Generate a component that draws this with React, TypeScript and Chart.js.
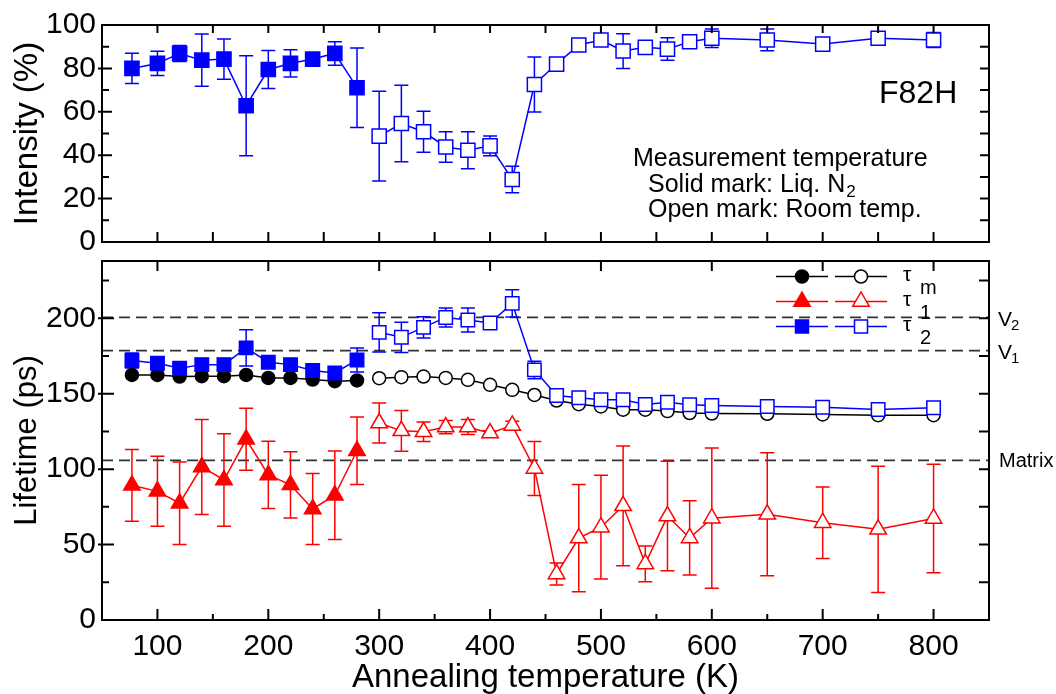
import React, { useEffect, useRef } from 'react';
import { Chart, registerables } from 'chart.js';

Chart.register(...registerables);

const FONT = '"Liberation Sans", Arial, Helvetica, sans-serif';

// Annealing temperatures (K)
const tempSolid = [77, 100, 120, 140, 160, 180, 200, 220, 240, 260, 280];
const tempOpen = [300, 320, 340, 360, 380, 400, 420, 440, 460, 480, 500, 520, 540, 560, 580, 600, 650, 700, 750, 800];

// Intensity (%) of tau2 component
const intensitySolid = [80.0, 82.3, 86.9, 83.8, 84.3, 62.8, 79.5, 82.3, 84.3, 86.9, 71.1];
const intensitySolidErr = [7, 5.6, 3.7, 12, 9.3, 23, 8.8, 6.3, 2, 5.4, 18.3];
const intensityOpen = [48.8, 54.6, 50.8, 43.8, 42.3, 44.3, 28.8, 72.6, 82.0, 90.8, 93.1, 88.0, 89.7, 88.9, 92.3, 93.9, 93.1, 91.2, 93.9, 93.1];
const intensityOpenErr = [20.7, 17.6, 9.4, 7, 8.5, 4.6, 6.1, 12.7, 1.5, 1, 2, 8, 1, 5.2, 1.5, 4.3, 5, 1.5, 1.5, 3.5];

// Lifetimes (ps)
const tauMSolid = [162.5, 162.5, 161.4, 161.6, 161.6, 162.5, 160.5, 160.5, 159.4, 158.3, 158.8];
const tauMOpen = [160.3, 161.0, 161.4, 160.5, 159.2, 155.9, 152.6, 149.2, 145.5, 143.1, 141.6, 139.4, 139.4, 138.5, 137.2, 136.9, 136.7, 136.3, 135.8, 135.8];

const tau1Solid = [89.3, 85.3, 77.4, 101.5, 92.8, 119.8, 96.2, 89.6, 73.6, 82.7, 112.2];
const tau1SolidErr = [23.8, 23.2, 27.3, 31.5, 30.6, 20.6, 22.3, 22, 23.5, 29.3, 22.4];
const tau1Open = [130.6, 125.4, 124.8, 127.9, 127.9, 123.9, 129.0, 100.5, 30.5, 54.3, 61.5, 75.7, 37.2, 68.9, 54.4, 67.5, 70.1, 64.5, 60.1, 67.3];
const tau1OpenErr = [13.2, 13.5, 6.4, 4.4, 5, 1.5, 2.8, 17.9, 7.3, 35.5, 34.4, 39.7, 11.8, 36.3, 24.6, 46.5, 40.8, 23.7, 41.8, 36];

const tau2Solid = [172.0, 170.2, 166.9, 169.3, 169.3, 180.4, 170.9, 169.3, 165.4, 163.8, 172.4];
const tau2SolidErr = [5, 3, 2, 4, 4, 12, 3, 2, 2, 2, 8];
const tau2Open = [190.7, 187.4, 194.0, 200.6, 198.9, 196.9, 209.9, 165.8, 148.8, 147.3, 146.0, 146.0, 142.9, 144.4, 142.7, 142.2, 141.6, 141.1, 139.6, 140.7];
const tau2OpenErr = [13, 10, 7, 6.3, 8, 2, 9, 5.8, 2.5, 2.5, 2.5, 3, 2.5, 2.5, 2.5, 2.5, 2.5, 2.5, 2.5, 3];

// Tick labels
const xTickValues = [100, 200, 300, 400, 500, 600, 700, 800];
const intensityTickValues = [0, 20, 40, 60, 80, 100];
const lifetimeTickValues = [0, 50, 100, 150, 200];

// Reference lifetimes (dashed lines)
const refLineValues = [200.6, 178.6, 105.8];
const refLineNames = ['V', 'V', 'Matrix'];
const refLineSubs = ['2', '1', ''];

const BLUE = '#0000ff';
const RED = '#ff0000';
const BLACK = '#000000';

function range(a: number, b: number, step: number) {
  const out: number[] = [];
  for (let v = a; v <= b + 1e-9; v += step) out.push(v);
  return out;
}

function series(xs: number[], ys: number[], errs: number[] | null, color: string, style: string, filled: boolean, radius: number) {
  return {
    data: xs.map((x, i) => ({ x, y: ys[i] })),
    errors: errs,
    borderColor: color,
    backgroundColor: filled ? color : '#ffffff',
    borderWidth: 1.5,
    pointStyle: style,
    pointRadius: radius,
    pointBorderWidth: 1.5,
    pointBackgroundColor: filled ? color : '#ffffff',
    pointBorderColor: color,
    showLine: true,
    tension: 0,
    fill: false,
  };
}

const errorBarPlugin = {
  id: 'errorBars',
  beforeDatasetsDraw(chart: any) {
    const { ctx } = chart;
    const x = chart.scales.x;
    const y = chart.scales.y;
    ctx.save();
    ctx.lineWidth = 1.5;
    ctx.setLineDash([]);
    chart.data.datasets.forEach((ds: any) => {
      if (!ds.errors) return;
      ctx.strokeStyle = ds.borderColor;
      ds.data.forEach((p: any, i: number) => {
        const e = ds.errors[i];
        if (!e) return;
        const px = x.getPixelForValue(p.x);
        const y1 = y.getPixelForValue(p.y + e);
        const y2 = y.getPixelForValue(p.y - e);
        ctx.beginPath();
        ctx.moveTo(px, y1);
        ctx.lineTo(px, y2);
        ctx.moveTo(px - 7, y1);
        ctx.lineTo(px + 7, y1);
        ctx.moveTo(px - 7, y2);
        ctx.lineTo(px + 7, y2);
        ctx.stroke();
      });
    });
    ctx.restore();
  },
};

type TickSpec = { values: number[]; len: number; out?: number };
function makeFramePlugin(id: string, spec: { bottom: TickSpec[]; top: TickSpec[]; left: TickSpec[]; right: TickSpec[] }) {
  return {
    id,
    afterDraw(chart: any) {
      const { ctx, chartArea: a } = chart;
      const x = chart.scales.x;
      const y = chart.scales.y;
      ctx.save();
      ctx.strokeStyle = '#000';
      ctx.lineWidth = 2;
      ctx.setLineDash([]);
      ctx.beginPath();
      ctx.rect(a.left, a.top, a.right - a.left, a.bottom - a.top);
      spec.bottom.forEach((t) => t.values.forEach((v) => {
        const p = x.getPixelForValue(v);
        ctx.moveTo(p, a.bottom + (t.out || 0));
        ctx.lineTo(p, a.bottom - t.len);
      }));
      spec.top.forEach((t) => t.values.forEach((v) => {
        const p = x.getPixelForValue(v);
        ctx.moveTo(p, a.top - (t.out || 0));
        ctx.lineTo(p, a.top + t.len);
      }));
      spec.left.forEach((t) => t.values.forEach((v) => {
        const p = y.getPixelForValue(v);
        ctx.moveTo(a.left - (t.out || 0), p);
        ctx.lineTo(a.left + t.len, p);
      }));
      spec.right.forEach((t) => t.values.forEach((v) => {
        const p = y.getPixelForValue(v);
        ctx.moveTo(a.right + (t.out || 0), p);
        ctx.lineTo(a.right - t.len, p);
      }));
      ctx.stroke();
      ctx.restore();
    },
  };
}

function drawMarker(ctx: CanvasRenderingContext2D, style: string, x: number, y: number, color: string, filled: boolean) {
  ctx.beginPath();
  if (style === 'circle') {
    ctx.arc(x, y, 6.5, 0, Math.PI * 2);
  } else if (style === 'triangle') {
    const r = 9.5;
    ctx.moveTo(x, y - r);
    ctx.lineTo(x + r * 0.866, y + r * 0.5);
    ctx.lineTo(x - r * 0.866, y + r * 0.5);
    ctx.closePath();
  } else {
    ctx.rect(x - 6.5, y - 6.5, 13, 13);
  }
  ctx.fillStyle = filled ? color : '#ffffff';
  ctx.fill();
  ctx.strokeStyle = color;
  ctx.lineWidth = 1.5;
  ctx.stroke();
}

const topTextPlugin = {
  id: 'topText',
  afterDraw(chart: any) {
    const { ctx, chartArea: a } = chart;
    ctx.save();
    ctx.fillStyle = '#000';
    ctx.textBaseline = 'alphabetic';
    ctx.textAlign = 'left';
    ctx.font = `32px ${FONT}`;
    ctx.fillText('F82H', a.right - 110, a.top + 78);
    ctx.font = `25px ${FONT}`;
    ctx.fillText('Measurement temperature', a.right - 356, a.top + 141);
    const s = 'Solid mark: Liq. N';
    ctx.fillText(s, a.right - 341, a.top + 166.7);
    const w = ctx.measureText(s).width;
    ctx.font = `17px ${FONT}`;
    ctx.fillText('2', a.right - 341 + w + 1, a.top + 171.5);
    ctx.font = `25px ${FONT}`;
    ctx.fillText('Open mark: Room temp.', a.right - 341, a.top + 191.7);
    ctx.restore();
  },
};

const bottomDecorPlugin = {
  id: 'bottomDecor',
  beforeDatasetsDraw(chart: any) {
    const { ctx, chartArea: a } = chart;
    const y = chart.scales.y;
    ctx.save();
    ctx.strokeStyle = '#333333';
    ctx.lineWidth = 1.6;
    ctx.setLineDash([11, 6]);
    refLineValues.forEach((v) => {
      const p = y.getPixelForValue(v);
      ctx.beginPath();
      ctx.moveTo(a.left, p);
      ctx.lineTo(a.right, p);
      ctx.stroke();
    });
    ctx.restore();
  },
  afterDraw(chart: any) {
    const { ctx, chartArea: a } = chart;
    const y = chart.scales.y;
    ctx.save();
    ctx.fillStyle = '#000';
    ctx.textAlign = 'left';
    ctx.textBaseline = 'alphabetic';
    refLineValues.forEach((v, i) => {
      const p = y.getPixelForValue(v);
      if (refLineSubs[i]) {
        ctx.font = `21px ${FONT}`;
        ctx.fillText(refLineNames[i], a.right + 9, p + 8.5);
        const w = ctx.measureText(refLineNames[i]).width;
        ctx.font = `15px ${FONT}`;
        ctx.fillText(refLineSubs[i], a.right + 9 + w - 1, p + 12.5);
      } else {
        ctx.font = `20px ${FONT}`;
        ctx.fillText(refLineNames[i], a.right + 10, p + 7);
      }
    });

    // Legend
    const rows = [
      { dy: 15.5, color: BLACK, style: 'circle', sub: 'm' },
      { dy: 40.5, color: RED, style: 'triangle', sub: '1' },
      { dy: 65.5, color: BLUE, style: 'rect', sub: '2' },
    ];
    rows.forEach((r) => {
      const ry = a.top + r.dy;
      ctx.setLineDash([]);
      ctx.strokeStyle = r.color;
      ctx.lineWidth = 1.5;
      ctx.beginPath();
      ctx.moveTo(a.right - 213, ry);
      ctx.lineTo(a.right - 161, ry);
      ctx.moveTo(a.right - 154, ry);
      ctx.lineTo(a.right - 102, ry);
      ctx.stroke();
      drawMarker(ctx, r.style, a.right - 187, ry, r.color, true);
      drawMarker(ctx, r.style, a.right - 128, ry, r.color, false);
      ctx.fillStyle = '#000';
      ctx.font = `21px ${FONT}`;
      ctx.fillText('\u03C4', a.right - 86, ry + 4);
      ctx.font = `20px ${FONT}`;
      ctx.fillText(r.sub, a.right - 69, ry + 17);
    });
    ctx.restore();
  },
};

export default function App() {
  const topRef = useRef<HTMLCanvasElement>(null);
  const botRef = useRef<HTMLCanvasElement>(null);

  useEffect(() => {
    const tickFont = { family: FONT, size: 30, lineHeight: 1 };

    const topChart = new Chart(topRef.current as HTMLCanvasElement, {
      type: 'line',
      data: {
        datasets: [
          series(tempSolid, intensitySolid, intensitySolidErr, BLUE, 'rect', true, 10),
          series(tempOpen, intensityOpen, intensityOpenErr, BLUE, 'rect', false, 10),
        ] as any,
      },
      options: {
        animation: false,
        responsive: false,
        events: [],
        layout: { padding: { top: 25, right: 67, bottom: 18, left: 0 } },
        plugins: { legend: { display: false }, tooltip: { enabled: false } },
        scales: {
          x: { type: 'linear', display: false, min: 50, max: 850 },
          y: {
            type: 'linear',
            min: 0,
            max: 100,
            afterBuildTicks: (s: any) => { s.ticks = intensityTickValues.map((v) => ({ value: v })); },
            afterFit: (s: any) => { s.width = 102; s.paddingTop = 0; s.paddingBottom = 0; },
            grid: { display: false, drawTicks: false },
            border: { display: false },
            ticks: { font: tickFont, color: '#000', padding: 6 },
            title: { display: true, text: 'Intensity (%)', color: '#000', font: { family: FONT, size: 33, lineHeight: 1 }, padding: { top: 11, bottom: 0 } },
          },
        } as any,
      },
      plugins: [
        errorBarPlugin,
        makeFramePlugin('frameTop', {
          bottom: [{ values: range(100, 800, 50), len: 10 }],
          top: [{ values: range(100, 800, 50), len: 8 }],
          left: [{ values: [20, 40, 60, 80], len: 10, out: 4 }, { values: [10, 30, 50, 70, 90], len: 7 }],
          right: [{ values: range(10, 90, 10), len: 9 }],
        }),
        topTextPlugin,
      ],
    } as any);

    const bottomChart = new Chart(botRef.current as HTMLCanvasElement, {
      type: 'line',
      data: {
        datasets: [
          series(tempOpen, tau2Open, tau2OpenErr, BLUE, 'rect', false, 9.5),
          series(tempSolid, tau2Solid, tau2SolidErr, BLUE, 'rect', true, 9.5),
          series(tempOpen, tauMOpen, null, BLACK, 'circle', false, 6.5),
          series(tempSolid, tauMSolid, null, BLACK, 'circle', true, 6.5),
          series(tempOpen, tau1Open, tau1OpenErr, RED, 'triangle', false, 9.5),
          series(tempSolid, tau1Solid, tau1SolidErr, RED, 'triangle', true, 9.5),
        ] as any,
      },
      options: {
        animation: false,
        responsive: false,
        events: [],
        layout: { padding: { top: 10, right: 67, bottom: 0, left: 0 } },
        plugins: { legend: { display: false }, tooltip: { enabled: false } },
        scales: {
          x: {
            type: 'linear',
            min: 50,
            max: 850,
            afterBuildTicks: (s: any) => { s.ticks = xTickValues.map((v) => ({ value: v })); },
            afterFit: (s: any) => { s.height = 74; s.paddingLeft = 0; s.paddingRight = 0; },
            grid: { display: false, drawTicks: false },
            border: { display: false },
            ticks: { font: tickFont, color: '#000', padding: 12, maxRotation: 0, autoSkip: false },
            title: { display: true, text: 'Annealing temperature (K)', color: '#000', font: { family: FONT, size: 33, lineHeight: 1 }, padding: { top: 0, bottom: 0 } },
          },
          y: {
            type: 'linear',
            min: 0,
            max: 238,
            afterBuildTicks: (s: any) => { s.ticks = lifetimeTickValues.map((v) => ({ value: v })); },
            afterFit: (s: any) => { s.width = 102; s.paddingTop = 0; s.paddingBottom = 0; },
            grid: { display: false, drawTicks: false },
            border: { display: false },
            ticks: { font: tickFont, color: '#000', padding: 6 },
            title: { display: true, text: 'Lifetime (ps)', color: '#000', font: { family: FONT, size: 31, lineHeight: 1 }, padding: { top: 12, bottom: 0 } },
          },
        } as any,
      },
      plugins: [
        bottomDecorPlugin,
        errorBarPlugin,
        makeFramePlugin('frameBottom', {
          bottom: [{ values: range(100, 800, 100), len: 11 }, { values: range(150, 750, 100), len: 6 }],
          top: [{ values: range(100, 800, 100), len: 10 }],
          left: [{ values: [50, 100, 150, 200], len: 12, out: 4 }, { values: [25, 75, 125, 175, 225], len: 7 }],
          right: [{ values: range(25, 225, 25), len: 10 }],
        }),
      ],
    } as any);

    return () => {
      topChart.destroy();
      bottomChart.destroy();
    };
  }, []);

  return (
    <div style={{ position: 'absolute', left: 0, top: 0, width: 1056, height: 694, background: '#ffffff' }}>
      <canvas ref={topRef} width={1056} height={260} style={{ position: 'absolute', left: 0, top: 0, width: 1056, height: 260 }} />
      <canvas ref={botRef} width={1056} height={444} style={{ position: 'absolute', left: 0, top: 250, width: 1056, height: 444 }} />
    </div>
  );
}
